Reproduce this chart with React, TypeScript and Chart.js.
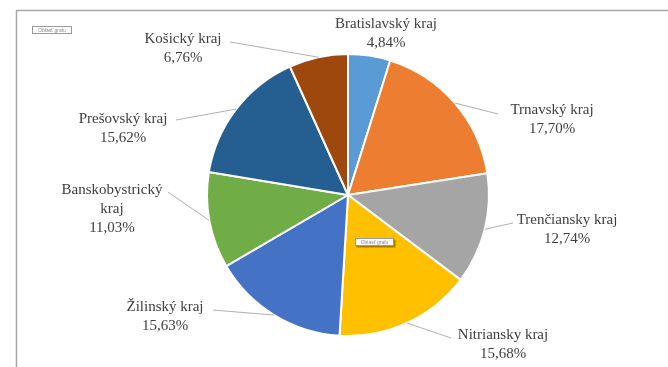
import React, { useEffect, useRef } from "react";
import { Chart, registerables } from "chart.js";

Chart.register(...registerables);

const categories = [
  "Bratislavský kraj",
  "Trnavský kraj",
  "Trenčiansky kraj",
  "Nitriansky kraj",
  "Žilinský kraj",
  "Banskobystrický kraj",
  "Prešovský kraj",
  "Košický kraj",
];
const shares = [4.84, 17.7, 12.74, 15.68, 15.63, 11.03, 15.62, 6.76];
const colors = ["#5B9BD5", "#ED7D31", "#A5A5A5", "#FFC000", "#4472C4", "#70AD47", "#255E91", "#9E480E"];

// label layout: text lines, text centre x, first line y, leader end (x,y) or null
const labelLines = [
  ["Bratislavský kraj"],
  ["Trnavský kraj"],
  ["Trenčiansky kraj"],
  ["Nitriansky kraj"],
  ["Žilinský kraj"],
  ["Banskobystrický", "kraj"],
  ["Prešovský kraj"],
  ["Košický kraj"],
];
const labelPos: [number, number][] = [
  [386, 24], [552, 110], [567, 220], [503, 335], [165, 307], [112, 190], [123, 119], [183, 39],
];
const leaderEnd: ([number, number] | null)[] = [
  null, [498, 114], [513, 223], [451, 338], [213, 310], [168, 192], [176, 120], [230, 42],
];

const fmt = (v: number) => v.toFixed(2).replace(".", ",") + "%";

const decorPlugin = {
  id: "decor",
  beforeDraw(chart: any) {
    const ctx = chart.ctx;
    ctx.save();
    ctx.fillStyle = "#ffffff";
    ctx.fillRect(0, 0, chart.width, chart.height);
    ctx.strokeStyle = "#a6a6a6";
    ctx.lineWidth = 1.5;
    ctx.beginPath();
    ctx.moveTo(16.5, chart.height);
    ctx.lineTo(16.5, 10.5);
    ctx.lineTo(chart.width, 10.5);
    ctx.stroke();
    ctx.restore();
  },
  afterDraw(chart: any) {
    const ctx = chart.ctx;
    const meta = chart.getDatasetMeta(0);
    ctx.save();
    meta.data.forEach((arc: any, i: number) => {
      const mid = (arc.startAngle + arc.endAngle) / 2;
      const r = arc.outerRadius;
      const sx = arc.x + Math.cos(mid) * r;
      const sy = arc.y + Math.sin(mid) * r;
      const end = leaderEnd[i];
      if (end) {
        ctx.strokeStyle = "#b0b0b0";
        ctx.lineWidth = 1;
        ctx.beginPath();
        ctx.moveTo(sx, sy);
        ctx.lineTo(end[0], end[1]);
        ctx.stroke();
      }
      const lines = [...labelLines[i], fmt(shares[i])];
      ctx.fillStyle = "#404040";
      ctx.font = "15px 'Liberation Serif', 'Times New Roman', serif";
      ctx.textAlign = "center";
      ctx.textBaseline = "middle";
      const [cx, cy] = labelPos[i];
      lines.forEach((t, k) => ctx.fillText(t, cx, cy + k * 19));
    });
    // small chart-area tags
    const tag = (x: number, y: number, w: number, h: number, shadow: boolean) => {
      if (shadow) {
        ctx.fillStyle = "rgba(0,0,0,0.35)";
        ctx.fillRect(x + 1.5, y + 1.5, w, h);
      }
      ctx.fillStyle = "#ffffff";
      ctx.fillRect(x, y, w, h);
      ctx.strokeStyle = "#9a9a9a";
      ctx.lineWidth = 1;
      ctx.strokeRect(x + 0.5, y + 0.5, w - 1, h - 1);
      ctx.fillStyle = "#8a8a8a";
      ctx.font = "5px 'Liberation Sans', sans-serif";
      ctx.textAlign = "center";
      ctx.textBaseline = "middle";
      ctx.fillText("Oblasť grafu", x + w / 2, y + h / 2 + 0.5);
    };
    tag(32, 26, 40, 8, false);
    tag(355, 238, 39, 8, true);
    ctx.restore();
  },
};

export default function App() {
  const ref = useRef<HTMLCanvasElement | null>(null);
  useEffect(() => {
    document.body.style.margin = "0";
    const canvas = ref.current;
    if (!canvas) return;
    const chart = new Chart(canvas, {
      type: "pie",
      data: {
        labels: categories,
        datasets: [
          {
            data: shares,
            backgroundColor: colors,
            borderColor: "#ffffff",
            borderWidth: 2,
          },
        ],
      },
      options: {
        responsive: false,
        animation: false,
        layout: { padding: { left: 206, right: 178, top: 53, bottom: 30 } },
        plugins: {
          legend: { display: false },
          tooltip: { enabled: false },
          title: { display: false },
        },
      },
      plugins: [decorPlugin],
    });
    return () => chart.destroy();
  }, []);
  return (
    <div style={{ width: 668, height: 367 }}>
      <canvas ref={ref} width={668} height={367} style={{ display: "block", width: 668, height: 367 }} />
    </div>
  );
}
